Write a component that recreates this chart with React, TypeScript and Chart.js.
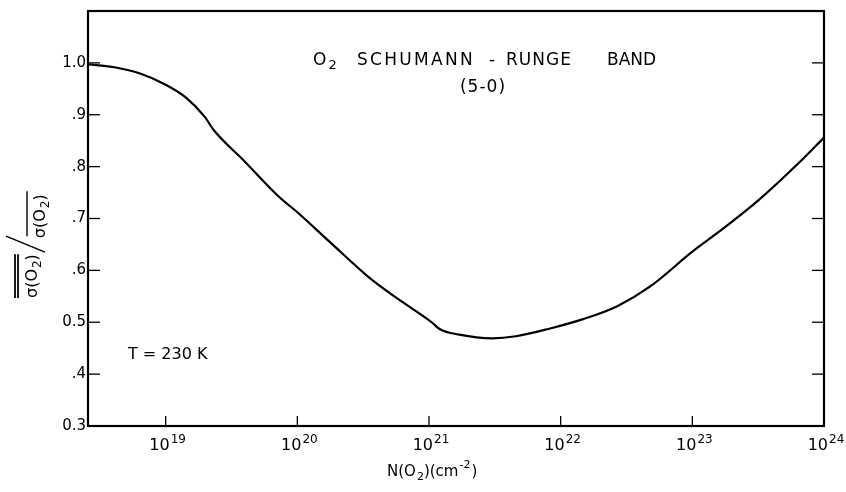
import React, { useEffect, useRef } from "react";
import { Chart, registerables } from "chart.js";

Chart.register(...registerables);

// log10 of N(O2) in cm^-2
const logN = [18.41, 18.6, 18.8, 19.0, 19.15, 19.3, 19.36, 19.6, 19.86, 20.0, 20.25, 20.56, 20.77, 21.02, 21.08, 21.23, 21.48, 21.66, 21.92, 22.17, 22.43, 22.68, 23.0, 23.2, 23.51, 23.8, 24.0];
// sigma ratio
const ratio = [0.997, 0.992, 0.98, 0.958, 0.934, 0.895, 0.872, 0.81, 0.742, 0.712, 0.654, 0.583, 0.544, 0.5, 0.487, 0.476, 0.469, 0.473, 0.488, 0.506, 0.531, 0.569, 0.636, 0.674, 0.737, 0.805, 0.856];

const xTickExponents = [19, 20, 21, 22, 23, 24];
const yTickValues = [0.3, 0.4, 0.5, 0.6, 0.7, 0.8, 0.9, 1.0];
const yTickLabels = ["0.3", ".4", "0.5", ".6", ".7", ".8", ".9", "1.0"];

const titleWords = ["SCHUMANN", "-", "RUNGE", "BAND"];
const titleLine2 = "(5-0)";
const tempLabel = "T = 230 K";

const FONT = "'DejaVu Sans', 'Liberation Sans', sans-serif";

function line(ctx: CanvasRenderingContext2D, x1: number, y1: number, x2: number, y2: number) {
  ctx.beginPath();
  ctx.moveTo(x1, y1);
  ctx.lineTo(x2, y2);
  ctx.stroke();
}

// draws "base" with a subscript/superscript part
function drawScript(ctx: CanvasRenderingContext2D, x: number, y: number, base: string, script: string, size: number, sup: boolean, align: "left" | "center", ssize?: number) {
  const sz = ssize || Math.round(size * 0.72);
  ctx.font = `${size}px ${FONT}`;
  const wb = ctx.measureText(base).width;
  ctx.font = `${sz}px ${FONT}`;
  const ws = ctx.measureText(script).width;
  const start = align === "center" ? x - (wb + ws + 1) / 2 : x;
  ctx.textAlign = "left";
  ctx.textBaseline = "alphabetic";
  ctx.font = `${size}px ${FONT}`;
  ctx.fillText(base, start, y);
  ctx.font = `${sz}px ${FONT}`;
  ctx.fillText(script, start + wb + 1, sup ? y - size * 0.45 : y + size * 0.25);
  return wb + ws + 1;
}

const annotPlugin = {
  id: "annot",
  afterDraw(chart: any) {
    const { ctx, chartArea: a, scales } = chart;
    const x = scales.x;
    const y = scales.y;
    ctx.save();
    ctx.strokeStyle = "#000";
    ctx.fillStyle = "#000";
    ctx.lineWidth = 2.2;
    ctx.strokeRect(a.left, a.top, a.right - a.left, a.bottom - a.top);
    ctx.lineWidth = 1.3;
    y.ticks.forEach((t: any) => {
      if (t.value <= y.min + 1e-9 || t.value >= y.max - 1e-9) return;
      const py = y.getPixelForValue(t.value);
      line(ctx, a.left, py, a.left + 12, py);
      line(ctx, a.right, py, a.right - 12, py);
    });
    x.ticks.forEach((t: any) => {
      const px = x.getPixelForValue(t.value);
      if (px < a.right - 2) line(ctx, px, a.bottom, px, a.bottom - 10);
      const e = Math.round(Math.log10(t.value));
      drawScript(ctx, px + 2, a.bottom + 24, "10", String(e), 16, true, "center", 12);
    });

    // x axis title N(O2)(cm-2)
    {
      const size = 15;
      let cx = 387;
      const by = 476;
      cx += drawScript(ctx, cx, by, "N(O", "2", size, false, "left", 11);
      ctx.font = `${size}px ${FONT}`;
      ctx.fillText(")(cm", cx, by);
      cx += ctx.measureText(")(cm").width;
      ctx.font = `11px ${FONT}`;
      ctx.fillText("-2", cx + 1, by - 8);
      cx += ctx.measureText("-2").width + 2;
      ctx.font = `${size}px ${FONT}`;
      ctx.fillText(")", cx, by);
    }

    // title inside
    {
      const size = 17;
      const by = 65;
      (ctx as any).letterSpacing = "1px";
      drawScript(ctx, 313, by, "O", "2", size, false, "left", 13);
      ctx.font = `${size}px ${FONT}`;
      ctx.textAlign = "left";
      const starts = [357, 489, 506, 607];
      const spacing = ["2.3px", "0px", "1px", "0px"];
      titleWords.forEach((w, i) => {
        (ctx as any).letterSpacing = spacing[i];
        ctx.fillText(w, starts[i], by);
      });
      (ctx as any).letterSpacing = "1px";
      ctx.textAlign = "center";
      ctx.fillText(titleLine2, 483, by + 27);
      ctx.font = `16px ${FONT}`;
      ctx.textAlign = "left";
      (ctx as any).letterSpacing = "0px";
      ctx.fillText(tempLabel, 128, 359);
    }

    // y axis label  sigma(O2)/sigma(O2) with overlines, rotated
    {
      const size = 16;
      ctx.save();
      ctx.translate(37, 298);
      ctx.rotate(-Math.PI / 2);
      // numerator
      let w = drawScript(ctx, 0, 0, "\u03c3(O", "2", size, false, "left", 12);
      ctx.font = `${size}px ${FONT}`;
      ctx.fillText(")", w, 0);
      w += ctx.measureText(")").width;
      ctx.lineWidth = 1.8;
      line(ctx, 0, -19, w, -19);
      line(ctx, 0, -22, w, -22);
      // slash
      ctx.lineWidth = 1.4;
      line(ctx, w + 2, 8, w + 18, -31);
      // denominator
      const dx = w + 16;
      const dy = 8;
      let w2 = drawScript(ctx, dx, dy, "\u03c3(O", "2", size, false, "left", 12);
      ctx.font = `${size}px ${FONT}`;
      ctx.fillText(")", dx + w2, dy);
      w2 += ctx.measureText(")").width;
      line(ctx, dx + 2, dy - 18, dx + w2 + 3, dy - 18);
      ctx.restore();
    }
    ctx.restore();
  },
};

export default function App() {
  const ref = useRef<HTMLCanvasElement | null>(null);
  useEffect(() => {
    document.body.style.margin = "0";
    const canvas = ref.current!;
    const chart = new Chart(canvas, {
      type: "line",
      data: {
        datasets: [
          {
            data: logN.map((e, i) => ({ x: Math.pow(10, e), y: ratio[i] })),
            borderColor: "#000",
            borderWidth: 2.2,
            pointRadius: 0,
            cubicInterpolationMode: "monotone",
            fill: false,
          },
        ],
      },
      options: {
        animation: false,
        responsive: false,
        events: [],
        layout: { padding: { left: 0, right: 22, top: 11, bottom: 0 } },
        plugins: { legend: { display: false }, tooltip: { enabled: false }, title: { display: false } },
        scales: {
          x: {
            type: "logarithmic",
            min: Math.pow(10, 18.41),
            max: 1e24,
            afterBuildTicks: (s: any) => {
              s.ticks = xTickExponents.map((e) => ({ value: Math.pow(10, e) }));
            },
            afterFit: (s: any) => {
              s.height = 66;
            },
            ticks: { display: false },
            grid: { display: false },
            border: { display: false },
          },
          y: {
            type: "linear",
            min: 0.3,
            max: 1.1,
            afterBuildTicks: (s: any) => {
              s.ticks = yTickValues.map((v) => ({ value: v }));
            },
            afterFit: (s: any) => {
              s.width = 88;
            },
            ticks: {
              color: "#000",
              padding: 2,
              font: { family: FONT, size: 15 },
              callback: (v: any) => {
                const i = yTickValues.findIndex((t) => Math.abs(t - Number(v)) < 1e-6);
                return i >= 0 ? yTickLabels[i] : "";
              },
            },
            grid: { display: false, drawTicks: false },
            border: { display: false },
          },
        },
      },
      plugins: [annotPlugin],
    } as any);
    return () => chart.destroy();
  }, []);
  return (
    <div style={{ width: 846, height: 492, background: "#fff" }}>
      <canvas ref={ref} width={846} height={492} />
    </div>
  );
}
